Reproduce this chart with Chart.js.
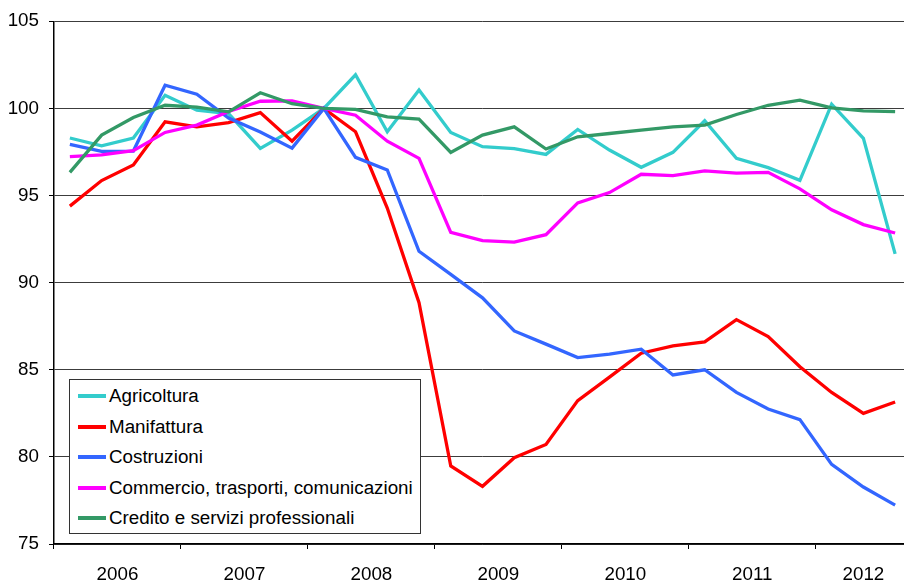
<!DOCTYPE html>
<html>
<head>
<meta charset="utf-8">
<script src="https://cdn.jsdelivr.net/npm/chart.js@4/dist/chart.umd.min.js"></script>
<style>
  html, body { margin: 0; padding: 0; background: #fff; overflow: hidden; }
  #wrap { position: relative; width: 904px; height: 585px; overflow: hidden; }
  #legend {
    position: absolute; left: 69px; top: 379px; width: 350px; height: 153px;
    border: 1px solid #333; background: #fff; box-sizing: content-box;
    font-family: 'Liberation Sans', Arial, sans-serif; font-size: 18.8px; color: #000;
  }
  .row { position: absolute; left: 0; height: 30px; display: flex; align-items: center; white-space: nowrap; }
  .sw { display: inline-block; width: 28px; height: 4px; margin-left: 8px; margin-right: 3px; }
</style>
</head>
<body>
<div id="wrap">
  <canvas id="c" width="915" height="585"></canvas>
  <div id="legend"></div>
</div>
<script>
const quarters = [
  'T1 2006','T2 2006','T3 2006','T4 2006',
  'T1 2007','T2 2007','T3 2007','T4 2007',
  'T1 2008','T2 2008','T3 2008','T4 2008',
  'T1 2009','T2 2009','T3 2009','T4 2009',
  'T1 2010','T2 2010','T3 2010','T4 2010',
  'T1 2011','T2 2011','T3 2011','T4 2011',
  'T1 2012','T2 2012','T3 2012'
];
const years = ['2006','2007','2008','2009','2010','2011','2012'];
const yTicks = [75, 80, 85, 90, 95, 100, 105];

const agricoltura = [98.3, 97.85, 98.3, 100.75, 99.9, 99.7, 97.7, 98.75, 100, 101.93, 98.66, 101.06, 98.62, 97.8, 97.69, 97.36, 98.79, 97.61, 96.62, 97.48, 99.29, 97.13, 96.6, 95.87, 100.24, 98.28, 91.65];
const manifattura = [94.39, 95.86, 96.75, 99.23, 98.94, 99.19, 99.76, 98.12, 100, 98.66, 94.28, 88.85, 79.48, 78.31, 79.95, 80.71, 83.23, 84.58, 85.95, 86.37, 86.6, 87.88, 86.9, 85.17, 83.7, 82.5, 83.15];
const costruzioni = [97.93, 97.53, 97.55, 101.33, 100.81, 99.45, 98.64, 97.72, 100, 97.19, 96.47, 91.8, 90.47, 89.13, 87.23, 86.47, 85.7, 85.9, 86.18, 84.7, 85.0, 83.7, 82.75, 82.14, 79.57, 78.27, 77.23];
const commercio = [97.23, 97.33, 97.57, 98.62, 99.04, 99.82, 100.41, 100.43, 100, 99.61, 98.12, 97.13, 92.89, 92.41, 92.33, 92.75, 94.58, 95.17, 96.22, 96.14, 96.41, 96.28, 96.33, 95.38, 94.18, 93.33, 92.85];
const credito = [96.33, 98.47, 99.48, 100.18, 100.07, 99.8, 100.9, 100.27, 100, 99.95, 99.51, 99.38, 97.47, 98.47, 98.94, 97.67, 98.37, 98.56, 98.75, 98.94, 99.04, 99.65, 100.18, 100.47, 100.03, 99.86, 99.82];

const seriesNames = ['Agricoltura', 'Manifattura', 'Costruzioni', 'Commercio, trasporti, comunicazioni', 'Credito e servizi professionali'];
const seriesData = [agricoltura, manifattura, costruzioni, commercio, credito];
const seriesColors = ['#33CCCC', '#FF0000', '#3366FF', '#FF00FF', '#339966'];

const FONT = "'Liberation Sans', Arial, sans-serif";

const yearLabels = {
  id: 'yearLabels',
  afterDraw(chart) {
    const xs = chart.scales.x;
    const ctx = chart.ctx;
    ctx.save();
    ctx.font = '18.8px ' + FONT;
    ctx.fillStyle = '#000';
    ctx.textAlign = 'center';
    ctx.textBaseline = 'middle';
    years.forEach(function (yr) {
      const idx = [];
      quarters.forEach(function (q, i) { if (q.endsWith(yr)) idx.push(i); });
      const a = xs.getPixelForValue(idx[0]);
      const b = xs.getPixelForValue(idx[idx.length - 1]);
      ctx.fillText(yr, (a + b) / 2, 575);
    });
    ctx.restore();
  }
};

new Chart(document.getElementById('c'), {
  type: 'line',
  data: {
    labels: quarters,
    datasets: seriesNames.map(function (n, i) {
      return {
        label: n,
        data: seriesData[i],
        borderColor: seriesColors[i],
        backgroundColor: seriesColors[i],
        borderWidth: 3.3,
        pointRadius: 0,
        tension: 0,
        fill: false,
        order: seriesNames.length - i
      };
    })
  },
  options: {
    responsive: false,
    animation: false,
    devicePixelRatio: 1,
    layout: { padding: { top: 19, right: 4, left: 0, bottom: 0 } },
    plugins: { legend: { display: false }, tooltip: { enabled: false } },
    scales: {
      x: {
        type: 'category',
        offset: true,
        afterFit: function (s) { s.height = 41; },
        ticks: { display: false, autoSkip: false },
        grid: {
          offset: true,
          drawOnChartArea: false,
          drawTicks: true,
          tickLength: 5,
          tickWidth: 1,
          tickColor: function (ctx) { return (ctx.index % 4 === 0) ? '#000' : 'rgba(0,0,0,0)'; }
        },
        border: { display: true, color: '#000', width: 1.5 }
      },
      y: {
        min: 75,
        max: 105,
        afterFit: function (s) { s.width = 54; },
        afterBuildTicks: function (s) { s.ticks = yTicks.map(function (v) { return { value: v }; }); },
        ticks: {
          stepSize: 5,
          padding: 10,
          color: '#000',
          font: { family: FONT, size: 18.8 }
        },
        grid: {
          color: '#3c3c3c',
          lineWidth: 1,
          drawTicks: true,
          tickLength: 5,
          tickColor: '#000'
        },
        border: { display: true, color: '#000', width: 1.5 }
      }
    }
  },
  plugins: [yearLabels]
});

const legend = document.getElementById('legend');
seriesNames.forEach(function (n, i) {
  const row = document.createElement('div');
  row.className = 'row';
  row.style.top = (1 + i * 30.6) + 'px';
  const sw = document.createElement('span');
  sw.className = 'sw';
  sw.style.background = seriesColors[i];
  const tx = document.createElement('span');
  tx.textContent = n;
  row.appendChild(sw);
  row.appendChild(tx);
  legend.appendChild(row);
});
</script>
</body>
</html>
